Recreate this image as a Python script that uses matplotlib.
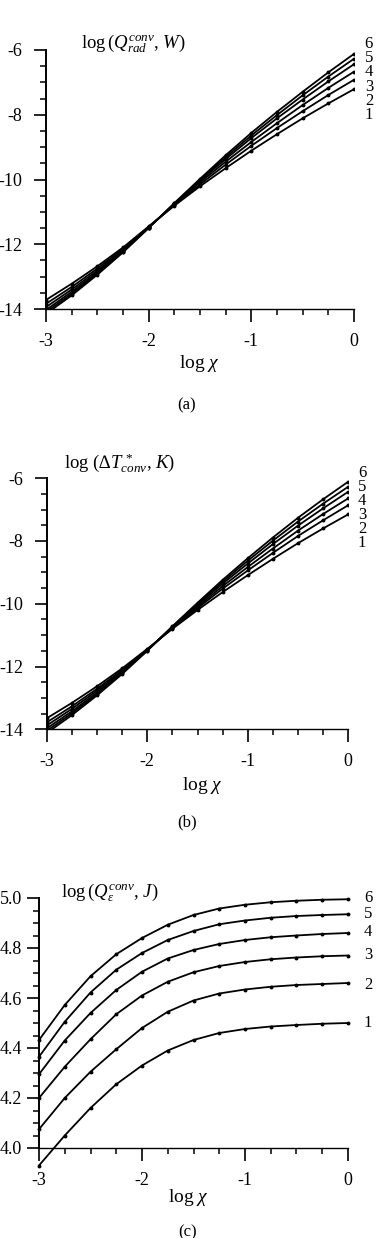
import numpy as np
import matplotlib
matplotlib.use("Agg")
import matplotlib.pyplot as plt
from matplotlib.ticker import MultipleLocator

plt.rcParams['font.family'] = ['Liberation Serif', 'DejaVu Sans']
plt.rcParams['mathtext.fontset'] = 'custom'
plt.rcParams['mathtext.rm'] = 'Liberation Serif'
plt.rcParams['mathtext.it'] = 'Liberation Serif:italic'
plt.rcParams['mathtext.fallback'] = 'stix'
plt.rcParams['axes.unicode_minus'] = False

# log chi grid
log_chi = [-3, -2.75, -2.5, -2.25, -2, -1.75, -1.5, -1.25, -1, -0.75, -0.5, -0.25, 0]
curve_ids = ['1', '2', '3', '4', '5', '6']

# (a) log(Q_rad^conv, W)
qrad = [
    [-13.72, -13.22, -12.68, -12.10, -11.45, -10.81, -10.21, -9.65, -9.11, -8.60, -8.11, -7.65, -7.21],
    [-13.84, -13.32, -12.75, -12.14, -11.46, -10.79, -10.15, -9.54, -8.96, -8.41, -7.89, -7.39, -6.92],
    [-13.94, -13.40, -12.81, -12.18, -11.47, -10.77, -10.09, -9.45, -8.84, -8.26, -7.70, -7.17, -6.67],
    [-14.03, -13.47, -12.86, -12.21, -11.49, -10.75, -10.04, -9.37, -8.72, -8.11, -7.53, -6.97, -6.44],
    [-14.09, -13.53, -12.90, -12.23, -11.49, -10.74, -10.01, -9.31, -8.64, -8.01, -7.40, -6.82, -6.27],
    [-14.15, -13.58, -12.94, -12.25, -11.50, -10.73, -9.98, -9.25, -8.56, -7.91, -7.29, -6.69, -6.12],
]
qrad_label_y = [-8.01, -7.57, -7.13, -6.69, -6.25, -5.81]

# (b) log(dT*_conv, K)
dtconv = [
    [-13.65, -13.16, -12.63, -12.06, -11.44, -10.80, -10.20, -9.63, -9.09, -8.57, -8.07, -7.60, -7.15],
    [-13.78, -13.27, -12.71, -12.11, -11.46, -10.78, -10.14, -9.52, -8.94, -8.38, -7.84, -7.34, -6.86],
    [-13.88, -13.35, -12.77, -12.15, -11.47, -10.76, -10.09, -9.44, -8.83, -8.24, -7.67, -7.14, -6.64],
    [-13.97, -13.43, -12.83, -12.18, -11.48, -10.74, -10.04, -9.36, -8.72, -8.10, -7.51, -6.96, -6.43],
    [-14.05, -13.49, -12.88, -12.21, -11.49, -10.73, -10.00, -9.30, -8.63, -7.99, -7.38, -6.81, -6.27],
    [-14.12, -13.55, -12.92, -12.24, -11.50, -10.72, -9.97, -9.24, -8.55, -7.89, -7.26, -6.67, -6.11],
]
dtconv_label_y = [-8.08, -7.63, -7.18, -6.72, -6.27, -5.82]

# (c) log(Q_eps^conv, J)
qeps = [
    [3.93, 4.05, 4.16, 4.255, 4.33, 4.39, 4.432, 4.46, 4.476, 4.486, 4.492, 4.497, 4.50],
    [4.075, 4.20, 4.305, 4.395, 4.48, 4.545, 4.59, 4.618, 4.634, 4.645, 4.652, 4.656, 4.66],
    [4.20, 4.325, 4.435, 4.535, 4.61, 4.665, 4.703, 4.728, 4.744, 4.755, 4.762, 4.767, 4.77],
    [4.295, 4.43, 4.54, 4.632, 4.705, 4.758, 4.792, 4.816, 4.832, 4.843, 4.85, 4.856, 4.86],
    [4.365, 4.505, 4.622, 4.713, 4.78, 4.832, 4.868, 4.895, 4.91, 4.921, 4.928, 4.932, 4.935],
    [4.432, 4.572, 4.687, 4.775, 4.84, 4.893, 4.932, 4.958, 4.973, 4.983, 4.989, 4.993, 4.995],
]
qeps_label_y = [4.50, 4.652, 4.772, 4.864, 4.936, 5.0]

W, H = 388, 1238
fig = plt.figure(figsize=(W / 100, H / 100), dpi=100)


def px_axes(l, r, t, b):
    return fig.add_axes([l / W, 1 - b / H, (r - l) / W, (b - t) / H])


def style(ax, ylim, ymaj, ymin, yfmt, ypad=8):
    ax.set_xlim(-3, 0)
    ax.set_ylim(*ylim)
    for s in ['top', 'right']:
        ax.spines[s].set_visible(False)
    ax.spines['left'].set_linewidth(1.4)
    ax.spines['bottom'].set_linewidth(1.0)
    ax.xaxis.set_major_locator(MultipleLocator(1))
    ax.xaxis.set_minor_locator(MultipleLocator(0.25))
    ax.yaxis.set_major_locator(MultipleLocator(ymaj))
    ax.yaxis.set_minor_locator(MultipleLocator(ymin))
    ax.yaxis.set_major_formatter(yfmt)
    ax.tick_params(which='major', length=9, width=1.2, labelsize=13, direction='out')
    ax.tick_params(which='minor', length=4.5, width=1.1, direction='out')
    ax.tick_params(axis='x', pad=8)
    ax.tick_params(axis='y', pad=ypad)
    ax.set_xticks([-3, -2, -1, 0])
    ax.set_xticklabels(['-3', '-2', '-1', '0'])


def draw(ax, data, lab_y, lab_x, clip=True):
    for k, ys in enumerate(data):
        ax.plot(log_chi, ys, color='black', lw=1.3, marker='o', ms=1.8,
                clip_on=clip)
        ax.text(lab_x, lab_y[k], curve_ids[k], fontsize=12, ha='center', va='center',
                clip_on=False)


# (a)
ax1 = px_axes(46, 354, 50, 309)
draw(ax1, qrad, qrad_label_y, 0.145)
style(ax1, (-14, -6), 2, 0.5, lambda v, p: '%d' % v)
fig.text(133 / W, 1 - 43 / H, r'log$\,(Q^{conv}_{rad}$, $W)$', fontsize=13.5,
         ha='center', va='center')
fig.text(199 / W, 1 - 363 / H, r'log $\chi$', fontsize=14, ha='center', va='center')
fig.text(187 / W, 1 - 405 / H, '(a)', fontsize=12, ha='center', va='center')

# (b)
ax2 = px_axes(46.7, 348.3, 478.2, 729.3)
draw(ax2, dtconv, dtconv_label_y, 0.137)
style(ax2, (-14, -6), 2, 0.5, lambda v, p: '%d' % v)
fig.text(120 / W, 1 - 463 / H, 'log (\u2206' + r'$T^{\,*}_{conv}$, $K$)', fontsize=13.5,
         ha='center', va='center')
fig.text(202 / W, 1 - 785 / H, r'log $\chi$', fontsize=14, ha='center', va='center')
fig.text(187 / W, 1 - 822 / H, '(b)', fontsize=12, ha='center', va='center')

# (c)
ax3 = px_axes(39, 348, 898, 1148)
draw(ax3, qeps, qeps_label_y, 0.194, clip=False)
style(ax3, (4.0, 5.0), 0.2, 0.05, lambda v, p: '%.1f' % v, ypad=3)
fig.text(110 / W, 1 - 892 / H, r'log$\,(Q^{conv}_{\varepsilon}$, $J)$', fontsize=13.5,
         ha='center', va='center')
fig.text(188 / W, 1 - 1198 / H, r'log $\chi$', fontsize=14, ha='center', va='center')
fig.text(188 / W, 1 - 1232 / H, '(c)', fontsize=12, ha='center', va='center')

fig.savefig('out.png', dpi=100)
